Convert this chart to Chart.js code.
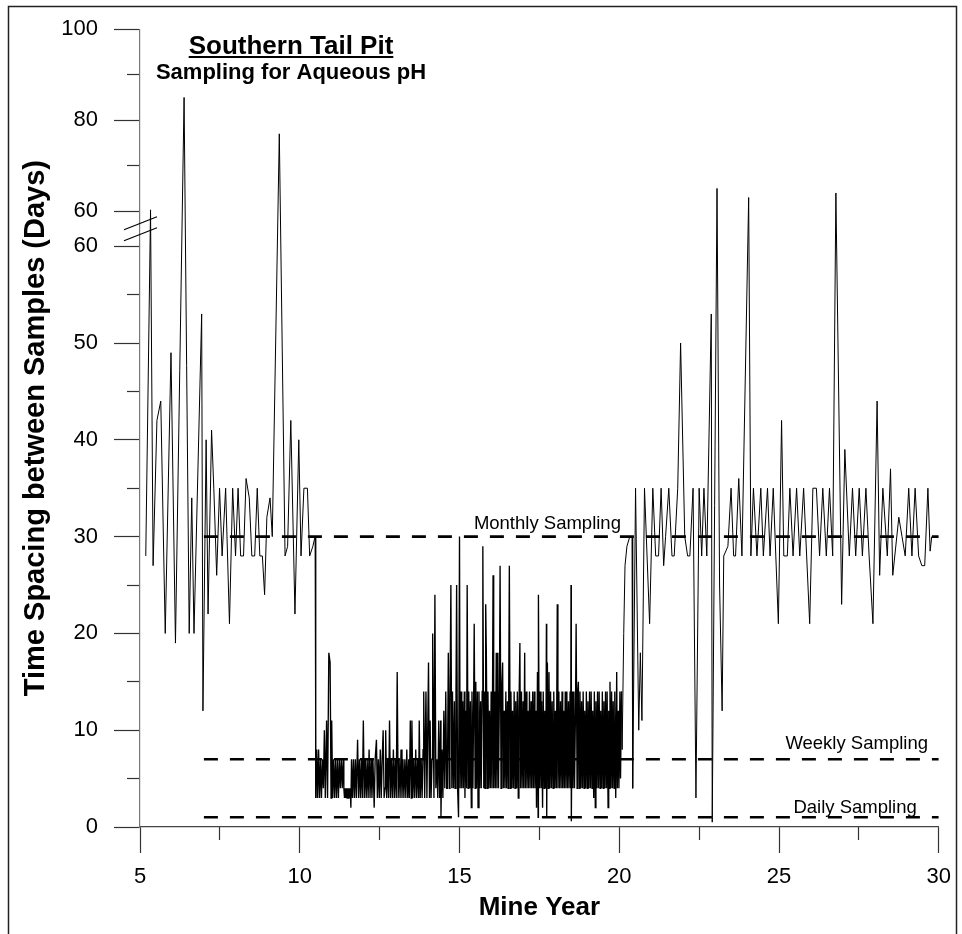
<!DOCTYPE html>
<html><head><meta charset="utf-8">
<script src="https://cdn.jsdelivr.net/npm/chart.js@4.4.1/dist/chart.umd.min.js"></script>
<style>html,body{margin:0;padding:0;background:#fff;}</style>
</head><body>
<canvas id="c" width="962" height="934"></canvas>
<script>
// ---------- DATA ----------
// [mine year, days since previous sample]
const earlySamples = [
[5.18,28],[5.33,60.3],[5.41,27],[5.53,42],[5.65,44],[5.79,20],[5.97,49],[6.11,19],[6.38,85],[6.54,20],
[6.62,34],[6.69,20],[6.93,53],[6.97,12],[7.07,40],[7.13,22],[7.24,41],[7.31,35],[7.40,26],[7.49,35],
[7.57,28],[7.68,35],[7.80,21],[7.90,35],[7.99,28],[8.07,35],[8.15,28],[8.24,28],[8.32,36],[8.42,34],
[8.50,28],[8.59,28],[8.67,35],[8.75,28],[8.83,28],[8.90,24],[8.97,32],[9.07,34],[9.14,30],[9.36,77],
[9.54,28],[9.62,29],[9.72,42],[9.85,22],[9.97,40],[10.04,28],[10.13,35],[10.24,35],[10.31,28],[10.41,29],
[10.48,30]
];
const denseSamples = [
[10.50,3],[10.53,8],[10.56,3],[10.59,8],[10.62,3],[10.65,7],[10.68,3],[10.71,7],[10.74,4],[10.77,10],[10.80,3],[10.84,11],[10.87,3],[10.91,18],[10.95,17],[10.98,3],[11.00,11],
[11.03,3],[11.06,7],[11.09,3],[11.12,7],[11.15,3],[11.18,7],[11.21,3],[11.24,7],[11.27,4],[11.30,7],[11.33,4],
[11.36,7],[11.38,4],[11.40,3],[11.42,4],[11.44,3],[11.46,4],[11.48,3],[11.50,4],[11.52,3],[11.54,4],[11.56,3],[11.58,4],[11.60,2],[11.62,7],[11.65,3],
[11.68,7],[11.71,3],[11.74,7],[11.77,3],[11.81,9],[11.84,3],[11.87,7],[11.90,3],[11.93,7],[11.96,3],[11.99,11],[12.02,3],[12.05,7],[12.08,3],[12.11,7],[12.14,3],[12.17,8],[12.20,3],[12.23,7],[12.26,3],[12.29,7],[12.33,2],
[12.36,7],[12.40,9],[12.43,3],[12.46,7],[12.49,3],[12.52,8],[12.55,3],[12.58,7],[12.61,10],[12.64,3],[12.67,4],[12.69,10],[12.72,3],[12.75,7],[12.78,3],[12.81,11],[12.84,3],[12.87,7],[12.90,3],[12.93,8],[12.96,3],[12.99,7],[13.02,3],[13.05,16],
[13.08,3],[13.11,7],[13.14,3],[13.17,8],[13.20,3],[13.23,7],[13.26,3],[13.29,7],[13.32,3],[13.35,8],[13.38,3],[13.41,7],[13.43,3],[13.46,11],[13.49,3],[13.51,11],[13.54,3],[13.57,7],[13.60,3],[13.63,8],
[13.66,3],[13.69,7],[13.72,3],[13.74,11],[13.77,3],[13.80,7],[13.83,3],[13.86,8],[13.88,14],[13.91,3],[13.95,14],[13.98,3],[14.03,17],[14.06,3],[14.08,11],[14.11,3],[14.14,7],[14.16,20],[14.20,3],[14.23,24],
[14.26,4],[14.29,7],[14.32,3],[14.35,11],[14.38,3],[14.41,11],[14.42,1],[14.45,8],[14.48,3],[14.51,12],[14.54,4],[14.57,14],[14.60,4],
[14.62,4],[14.65,18],[14.68,4],[14.70,12],[14.73,25],[14.76,4],[14.78,14],[14.81,4],[14.84,13],[14.86,4],[14.89,14],[14.91,25],[14.94,4],[14.97,1],[15.00,30],
[15.02,4],[15.05,14],[15.07,4],[15.10,13],[15.12,4],[15.15,14],[15.17,3],[15.20,12],[15.22,4],[15.24,25],[15.27,4],[15.29,14],[15.32,4],[15.34,13],[15.37,2],[15.39,14],[15.42,4],[15.44,12],[15.46,21],[15.49,4],[15.51,15],[15.53,4],
[15.56,14],[15.58,2],[15.61,14],[15.63,4],[15.66,13],[15.68,4],[15.71,14],[15.73,29],[15.76,4],[15.78,14],[15.80,4],[15.82,23],[15.84,18],[15.87,4],[15.89,14],[15.92,4],[15.94,12],[15.97,4],[15.99,14],[16.02,4],[16.05,26],
[16.07,4],[16.10,14],[16.12,4],[16.15,18],[16.17,4],[16.20,18],[16.22,4],[16.25,14],[16.27,27],[16.30,4],[16.32,14],[16.35,17],[16.37,4],[16.40,12],[16.42,4],[16.45,14],[16.47,4],[16.50,13],[16.52,4],[16.54,14],[16.56,27],
[16.59,4],[16.61,14],[16.64,4],[16.66,12],[16.69,4],[16.71,14],[16.74,4],[16.76,13],[16.79,4],[16.81,14],[16.84,3],[16.86,12],[16.89,19],[16.91,4],[16.94,14],[16.96,4],[16.99,13],[17.01,4],[17.04,18],
[17.06,4],[17.09,14],[17.11,4],[17.14,12],[17.16,4],[17.19,14],[17.21,4],[17.24,13],[17.26,4],[17.29,14],[17.31,4],[17.34,14],[17.36,4],[17.39,12],[17.41,2],[17.44,16],[17.46,1],[17.47,24],[17.50,4],[17.52,14],[17.55,4],
[17.57,13],[17.60,2],[17.62,14],[17.65,4],[17.67,12],[17.70,4],[17.72,21],[17.73,1],[17.75,17],[17.78,4],[17.80,16],[17.83,4],[17.85,14],[17.88,4],[17.90,13],[17.93,4],[17.95,14],[17.98,4],[18.00,12],[18.03,4],[18.06,23],
[18.08,4],[18.11,14],[18.13,4],[18.16,13],[18.18,4],[18.21,14],[18.23,4],[18.26,12],[18.28,4],[18.31,14],[18.33,4],[18.36,14],[18.38,4],[18.41,13],[18.43,4],[18.46,14],[18.48,4],[18.49,25],[18.50,0.6],[18.53,14],[18.55,4],
[18.58,14],[18.60,4],[18.63,12],[18.65,21],[18.68,4],[18.70,14],[18.72,15],[18.75,4],[18.77,14],[18.80,4],[18.82,13],[18.85,4],[18.87,14],[18.90,4],[18.92,12],[18.95,4],[18.97,14],[19.00,4],[19.02,13],[19.05,4],
[19.07,14],[19.10,4],[19.12,14],[19.15,4],[19.17,12],[19.20,3],[19.22,14],[19.25,2],[19.27,13],[19.30,4],[19.32,14],[19.35,4],[19.37,14],[19.40,4],[19.42,12],[19.45,4],[19.47,14],[19.50,4],[19.52,13],[19.55,4],
[19.57,14],[19.60,4],[19.62,14],[19.65,2],[19.67,12],[19.70,4],[19.71,15],[19.74,4],[19.76,14],[19.79,4],[19.81,13],[19.84,4],[19.86,14],[19.89,3],[19.92,16],[19.94,4],[19.97,12],[19.99,4],[20.02,14],[20.04,5],[20.07,14]
];
const lateSamples = [
[20.09,8],[20.14,20],[20.18,27],[20.24,29],[20.33,30],[20.40,30],[20.42,4],[20.51,35],[20.61,10],[20.66,18],
[20.71,11],[20.79,35],[20.87,28],[20.95,21],[21.05,35],[21.14,28],[21.23,28],[21.31,35],[21.39,27],[21.45,30],
[21.55,35],[21.65,28],[21.72,28],[21.83,35],[21.92,50],[22.05,30],[22.14,28],[22.21,28],[22.31,35],[22.40,3],
[22.50,35],[22.58,28],[22.65,35],[22.74,28],[22.88,53],[22.91,0.5],[23.06,65],[23.14,25],[23.22,12],[23.27,28],
[23.40,29],[23.50,35],[23.58,28],[23.64,28],[23.74,36],[23.84,28],[24.05,63],[24.12,28],[24.20,35],[24.31,28],
[24.43,35],[24.51,28],[24.64,35],[24.72,28],[24.82,35],[24.98,21],[25.08,42],[25.15,28],[25.26,28],[25.34,35],
[25.44,28],[25.55,35],[25.65,28],[25.77,35],[25.96,21],[26.06,35],[26.17,35],[26.27,28],[26.37,35],[26.48,28],
[26.58,35],[26.68,28],[26.78,64],[26.96,23],[27.06,39],[27.20,28],[27.30,35],[27.40,28],[27.51,35],[27.61,28],
[27.72,35],[27.82,28],[27.94,21],[28.07,44],[28.15,26],[28.25,35],[28.39,28],[28.49,37],[28.56,26],[28.75,32],
[28.85,30],[28.95,28],[29.06,35],[29.16,28],[29.26,35],[29.37,28],[29.47,27],[29.56,27],[29.66,35],[29.73,28.5],
[29.78,30]
];
// reference sampling frequencies (days) and their labels
const refLevels = [30, 7, 1];
const refLabels = ['Monthly Sampling', 'Weekly Sampling', 'Daily Sampling'];
const refSpan = [7, 30];           // mine years covered by the reference lines
// axis ticks
const xMajorTicks = [5, 10, 15, 20, 25, 30];
const xMinorTicks = [7.5, 12.5, 17.5, 22.5, 27.5];
const yLowerMajor = [0, 10, 20, 30, 40, 50, 60];
const yLowerMinor = [5, 15, 25, 35, 45, 55];
const yUpperMajor = [60, 80, 100];
const yUpperMinor = [70, 90];

// ---------- broken-axis mapping ----------
const BREAK = 60, GAP = 3.62, UPPER_RATIO = 0.47;
const upperPos = v => BREAK + GAP + (v - BREAK) * UPPER_RATIO;
const toAxis = v => (v <= BREAK ? v : upperPos(v));

const yMajorVals = yLowerMajor.map(v => v).concat(yUpperMajor.map(upperPos));
const yMajorLabels = yLowerMajor.concat(yUpperMajor).map(String);
const yMinorVals = yLowerMinor.concat(yUpperMinor.map(upperPos));

const FONT = "'Liberation Sans', Arial, Helvetica, sans-serif";
const allSamples = earlySamples.concat(denseSamples, lateSamples);
const denseStart = denseSamples[0][0], denseEnd = denseSamples[denseSamples.length - 1][0];

const refDatasets = refLevels.map(lv => ({
  data: refSpan.map(yr => ({x: yr, y: lv})),
  borderColor: '#000', borderWidth: 2.6, borderDash: [14, 12], pointRadius: 0, order: 0, fill: false
}));

const decor = {
  id: 'decor',
  beforeDraw(chart) {
    const c = chart.ctx;
    c.save(); c.fillStyle = '#fff'; c.fillRect(0, 0, chart.width, chart.height); c.restore();
  },
  afterDraw(chart) {
    const c = chart.ctx, xs = chart.scales.x, ys = chart.scales.y, ca = chart.chartArea;
    c.save();
    // titles
    c.fillStyle = '#000';
    c.textAlign = 'center'; c.textBaseline = 'alphabetic';
    c.font = "bold 26px " + FONT;
    const tx = ca.left + 151;
    c.fillText('Southern Tail Pit', tx, 54);
    const w = c.measureText('Southern Tail Pit').width;
    c.fillRect(tx - w / 2, 56, w, 2);
    c.font = "bold 22px " + FONT;
    c.fillText('Sampling for Aqueous pH', tx, 79);
    // reference line labels
    c.font = "18.5px " + FONT; c.textAlign = 'left';
    const labelYears = [15.45, 25.2, 25.45], labelLift = [8, 10, 4];
    refLabels.forEach((t, i) => {
      c.fillText(t, xs.getPixelForValue(labelYears[i]), ys.getPixelForValue(refLevels[i]) - labelLift[i]);
    });
    // axis break marks
    const mid = (ys.getPixelForValue(BREAK) + ys.getPixelForValue(upperPos(BREAK))) / 2;
    c.strokeStyle = '#000'; c.lineWidth = 1.2;
    [-5.5, 5.5].forEach(o => {
      c.beginPath();
      c.moveTo(ca.left - 16, mid + o + 6.5);
      c.lineTo(ca.left + 17, mid + o - 6.5);
      c.stroke();
    });
    // outer frame
    c.strokeStyle = '#222'; c.lineWidth = 1.5;
    c.strokeRect(8.5, 6.5, 948, 940);
    c.restore();
  }
};

const tickFont = {family: FONT, size: 22};
new Chart(document.getElementById('c'), {
  type: 'line',
  data: {
    datasets: [
      ...refDatasets,
      {
        data: allSamples.map(p => ({x: p[0], y: toAxis(p[1])})),
        borderColor: '#000', borderWidth: 1, pointRadius: 0, tension: 0, order: 1, fill: false,
        segment: {
          borderWidth: ctx => (ctx.p0.parsed.x >= denseStart && ctx.p1.parsed.x <= denseEnd ? 1.35 : 1)
        }
      }
    ]
  },
  options: {
    responsive: false, animation: false, devicePixelRatio: 1,
    layout: {padding: {left: 0, right: 16, top: 29, bottom: 0}},
    plugins: {legend: {display: false}, tooltip: {enabled: false}},
    scales: {
      x: {
        type: 'linear', position: 'bottom', min: 5, max: 30, weight: 1,
        afterBuildTicks: s => { s.ticks = xMajorTicks.map(v => ({value: v})); },
        afterFit: s => { s.height = 107; },
        ticks: {font: tickFont, color: '#000', padding: 11, maxRotation: 0, autoSkip: false, callback: v => String(v)},
        grid: {drawOnChartArea: false, tickLength: 26, tickColor: '#333', tickWidth: 1.2},
        border: {display: true, color: '#444', width: 1.2},
        title: {display: true, text: 'Mine Year', color: '#000', font: {family: FONT, size: 26, weight: 'bold'}, padding: {top: 0, bottom: 11}}
      },
      xMinor: {
        type: 'linear', position: 'bottom', min: 5, max: 30, weight: 0,
        afterBuildTicks: s => { s.ticks = xMinorTicks.map(v => ({value: v})); },
        afterFit: s => { s.height = 0; },
        ticks: {display: false},
        grid: {drawOnChartArea: false, tickLength: 13, tickColor: '#333', tickWidth: 1.2},
        border: {display: false}
      },
      y: {
        type: 'linear', position: 'left', min: 0, max: upperPos(100), weight: 1,
        afterBuildTicks: s => { s.ticks = yMajorVals.map(v => ({value: v})); },
        afterFit: s => { s.width = 140; },
        ticks: {font: tickFont, color: '#000', padding: 16, autoSkip: false, callback: (v, i) => yMajorLabels[i]},
        grid: {drawOnChartArea: false, tickLength: 26, tickColor: '#333', tickWidth: 1.2},
        border: {display: true, color: '#777', width: 1.2},
        title: {display: true, text: 'Time Spacing between Samples (Days)', color: '#000', font: {family: FONT, size: 29, weight: 'bold'}, padding: {top: 19, bottom: 0}}
      },
      yMinor: {
        type: 'linear', position: 'left', min: 0, max: upperPos(100), weight: 0,
        afterBuildTicks: s => { s.ticks = yMinorVals.map(v => ({value: v})); },
        afterFit: s => { s.width = 0; },
        ticks: {display: false},
        grid: {drawOnChartArea: false, tickLength: 13, tickColor: '#333', tickWidth: 1.2},
        border: {display: false}
      }
    }
  },
  plugins: [decor]
});
</script>
</body></html>
